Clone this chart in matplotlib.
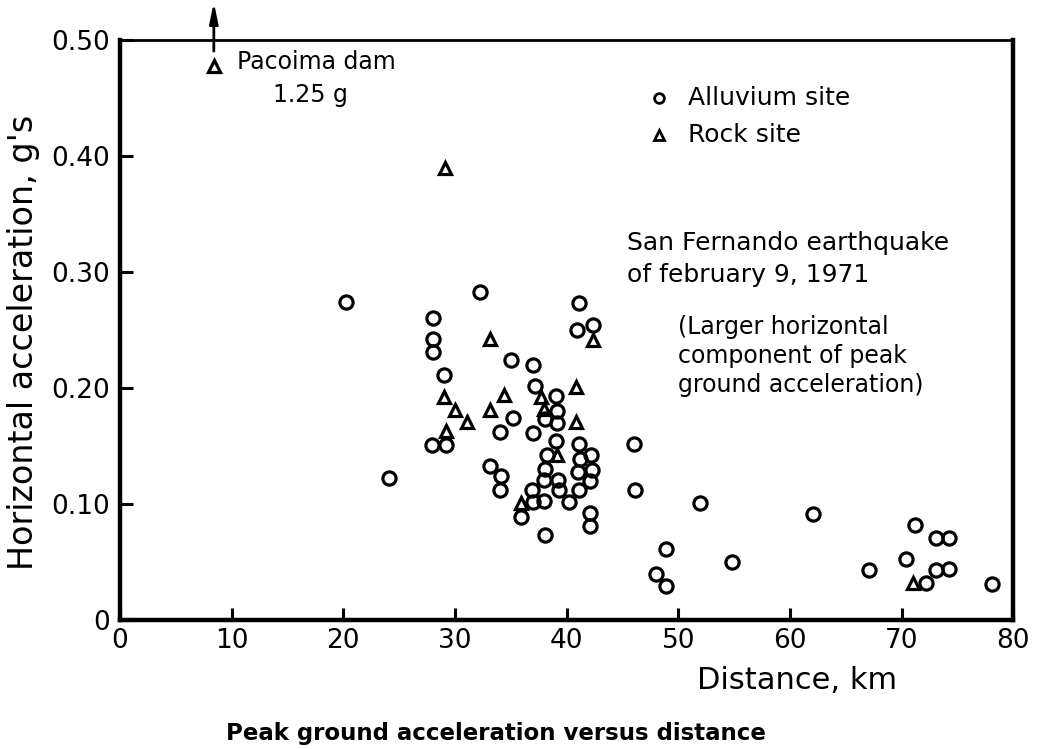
import numpy as np
import matplotlib.pyplot as plt

# alluvium sites (distance km, peak acc g)
alluvium_km = [20.2, 32.2, 41.1, 28.0, 28.0, 28.0, 40.9, 42.4, 35.0, 37.0, 29.0, 37.2,
               39.0, 39.1, 38.1, 39.1, 35.2, 34.0, 37.0, 27.9, 29.2, 39.0, 41.1, 46.0,
               38.2, 41.2, 42.2, 38.1, 41.0, 42.3, 33.1, 34.1, 34.0, 24.1, 38.0, 39.2,
               42.1, 36.9, 39.3, 41.1, 46.1, 37.0, 38.0, 40.2, 35.9, 42.1, 42.1, 38.1,
               51.9, 62.1, 71.2, 73.1, 74.2, 48.9, 54.8, 70.4, 67.1, 73.1, 74.2, 48.0,
               48.9, 72.2, 78.1]
alluvium_g = [0.274, 0.283, 0.273, 0.260, 0.242, 0.231, 0.250, 0.254, 0.224, 0.220, 0.211, 0.202,
              0.193, 0.180, 0.173, 0.170, 0.174, 0.162, 0.161, 0.151, 0.151, 0.154, 0.152, 0.152,
              0.142, 0.139, 0.142, 0.130, 0.128, 0.129, 0.133, 0.124, 0.112, 0.122, 0.121, 0.121,
              0.120, 0.112, 0.112, 0.112, 0.112, 0.102, 0.103, 0.102, 0.089, 0.092, 0.081, 0.073,
              0.101, 0.091, 0.082, 0.071, 0.071, 0.061, 0.050, 0.053, 0.043, 0.043, 0.044, 0.040,
              0.029, 0.032, 0.031]

# rock sites
rock_km = [42.4, 33.1, 40.8, 29.0, 34.4, 37.7, 30.0, 33.1, 38.0, 31.1, 40.8, 29.2,
           39.1, 35.9, 29.1, 71.0]
rock_g = [0.241, 0.242, 0.201, 0.192, 0.194, 0.192, 0.181, 0.181, 0.182, 0.171, 0.171, 0.163,
          0.142, 0.101, 0.390, 0.032]

# Pacoima dam (off scale, 1.25 g)
pacoima_km = 8.4
pacoima_g = 0.478

plt.rcParams['font.family'] = 'DejaVu Sans'

fig = plt.figure(figsize=(10.4, 7.49), dpi=100)
ax = fig.add_axes([0.1154, 0.1722, 0.859, 0.7744])

ax.plot(alluvium_km, alluvium_g, 'o', ms=9.5, mfc='none', mec='black', mew=2.3)
ax.plot(rock_km, rock_g, '^', ms=9, mfc='none', mec='black', mew=2.3)
ax.plot([pacoima_km], [pacoima_g], '^', ms=9, mfc='none', mec='black', mew=2.3)
ax.annotate('', xy=(pacoima_km, 0.535), xytext=(pacoima_km, pacoima_g + 0.01),
            annotation_clip=False,
            arrowprops=dict(arrowstyle='-|>,head_length=1.2,head_width=0.25',
                            color='black', lw=2))

ax.set_xlim(0, 80)
ax.set_ylim(0, 0.50)
ax.set_xticks(np.arange(0, 81, 10))
ax.set_yticks([0, 0.1, 0.2, 0.3, 0.4, 0.5])
ax.set_yticklabels(['0', '0.10', '0.20', '0.30', '0.40', '0.50'])
ax.tick_params(direction='in', length=9, width=2.2, labelsize=19, pad=7)
ax.tick_params(axis='x', pad=6)
for s in ['left', 'bottom', 'right']:
    ax.spines[s].set_linewidth(3.2)
ax.spines['top'].set_linewidth(2)

ax.set_xlabel('Distance, km', fontsize=22)
ax.xaxis.set_label_coords(0.758, -0.08)
ax.set_ylabel("Horizontal acceleration, g's", fontsize=24)
ax.yaxis.set_label_coords(-0.09, 0.478)

# legend by hand
ax.plot([48.3], [0.450], 'o', ms=7, mfc='none', mec='black', mew=2)
ax.text(50.9, 0.450, 'Alluvium site', fontsize=18, va='center')
ax.plot([48.3], [0.418], '^', ms=7, mfc='none', mec='black', mew=2)
ax.text(50.9, 0.418, 'Rock site', fontsize=18, va='center')

ax.text(10.5, 0.481, 'Pacoima dam', fontsize=17, va='center')
ax.text(13.7, 0.453, '1.25 g', fontsize=17, va='center')

ax.text(45.4, 0.325, 'San Fernando earthquake', fontsize=18, va='center')
ax.text(45.4, 0.297, 'of february 9, 1971', fontsize=18, va='center')
ax.text(50.0, 0.253, '(Larger horizontal', fontsize=17, va='center')
ax.text(50.0, 0.228, 'component of peak', fontsize=17, va='center')
ax.text(50.0, 0.203, 'ground acceleration)', fontsize=17, va='center')

fig.text(0.477, 0.005, 'Peak ground acceleration versus distance', fontsize=16.5,
         fontweight='bold', ha='center', va='bottom')

fig.savefig('out.png', dpi=100)
